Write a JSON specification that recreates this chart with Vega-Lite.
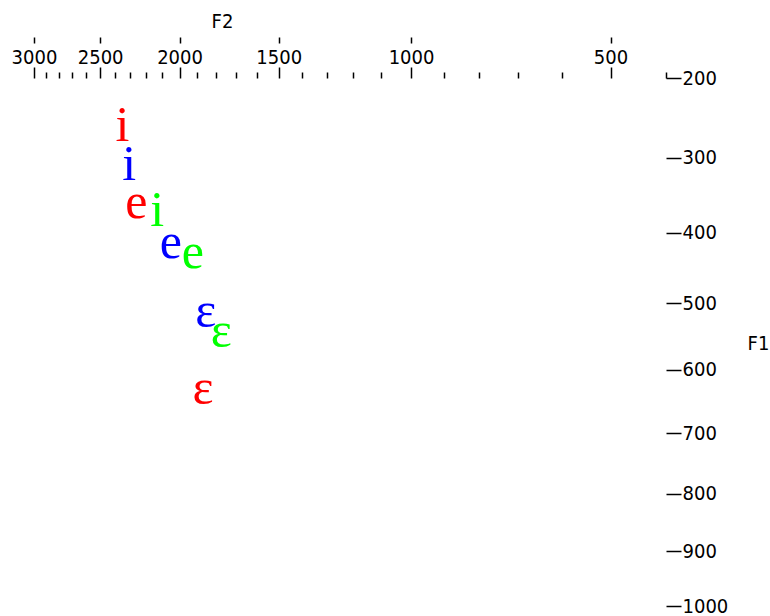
{
  "$schema": "https://vega.github.io/schema/vega-lite/v6.json",
  "width": 632,
  "height": 528,
  "autosize": {"type": "none"},
  "padding": {"left": 34, "top": 78, "right": 104, "bottom": 10},
  "background": "white",
  "config": {
    "view": {"stroke": null},
    "axis": {
      "labelFont": "Liberation Sans Narrow, DejaVu Sans Condensed, sans-serif",
      "titleFont": "Liberation Sans Narrow, DejaVu Sans Condensed, sans-serif",
      "labelColor": "black",
      "titleColor": "black",
      "tickColor": "black",
      "grid": false,
      "domain": false
    }
  },
  "data": {
    "values": [
      {"vowel": "i", "speaker": "s1", "F1": 260, "F2": 2350},
      {"vowel": "i", "speaker": "s2", "F1": 310, "F2": 2305},
      {"vowel": "e", "speaker": "s1", "F1": 360, "F2": 2260},
      {"vowel": "i", "speaker": "s3", "F1": 370, "F2": 2130},
      {"vowel": "e", "speaker": "s2", "F1": 414, "F2": 2050},
      {"vowel": "e", "speaker": "s3", "F1": 428, "F2": 1925},
      {"vowel": "ε", "speaker": "s2", "F1": 513, "F2": 1855},
      {"vowel": "ε", "speaker": "s3", "F1": 542, "F2": 1775},
      {"vowel": "ε", "speaker": "s1", "F1": 630, "F2": 1870}
    ]
  },
  "layer": [
    {
      "mark": {"type": "point", "opacity": 0},
      "encoding": {
        "x": {
          "field": "F2",
          "type": "quantitative",
          "axis": {
            "orient": "top",
            "title": null,
            "values": [3000, 2500, 2000, 1500, 1000, 500],
            "labels": false,
            "ticks": true,
            "tickSize": 6,
            "tickWidth": 1.5,
            "tickColor": "black",
            "offset": 35
          }
        }
      }
    },
    {
      "mark": {"type": "text", "font": "Liberation Serif", "fontSize": 50, "align": "center", "baseline": "middle"},
      "encoding": {
        "x": {
          "field": "F2",
          "type": "quantitative",
          "scale": {"type": "symlog", "constant": 270, "domain": [400, 3000], "reverse": true, "nice": false, "zero": false},
          "axis": {
            "orient": "top",
            "title": "F2",
            "values": [3000, 2900, 2800, 2700, 2600, 2500, 2400, 2300, 2200, 2100, 2000, 1900, 1800, 1700, 1600, 1500, 1400, 1300, 1200, 1100, 1000, 900, 800, 700, 600, 500, 400],
            "format": "d",
            "labelExpr": "datum.value % 500 === 0 ? datum.label : ''",
            "tickSize": {"condition": {"test": "datum.value % 500 === 0", "value": 11}, "value": 6},
            "tickWidth": 1.5,
            "labelPadding": 0,
            "labelFontSize": 20,
            "labelOverlap": false,
            "labelBound": false,
            "labelFlush": false,
            "titleX": 188,
            "titleY": -57,
            "titleAlign": "center",
            "titleBaseline": "middle",
            "titleFontSize": 20,
            "titleFontWeight": "normal"
          }
        },
        "y": {
          "field": "F1",
          "type": "quantitative",
          "scale": {"type": "symlog", "constant": 1300, "domain": [200, 1000], "reverse": true, "nice": false, "zero": false},
          "axis": {
            "orient": "right",
            "title": "F1",
            "values": [200, 300, 400, 500, 600, 700, 800, 900, 1000],
            "format": "d",
            "tickSize": 15,
            "tickWidth": 1.5,
            "labelPadding": 1,
            "labelFontSize": 20,
            "labelOverlap": false,
            "labelBound": false,
            "labelFlush": false,
            "titleAngle": 0,
            "titleX": 92,
            "titleY": 265,
            "titleAlign": "center",
            "titleBaseline": "middle",
            "titleFontSize": 20,
            "titleFontWeight": "normal"
          }
        },
        "text": {"field": "vowel"},
        "color": {
          "field": "speaker",
          "type": "nominal",
          "scale": {"domain": ["s1", "s2", "s3"], "range": ["#ff0000", "#0000ff", "#00ff00"]},
          "legend": null
        }
      }
    }
  ],
  "resolve": {"axis": {"x": "independent"}}
}
